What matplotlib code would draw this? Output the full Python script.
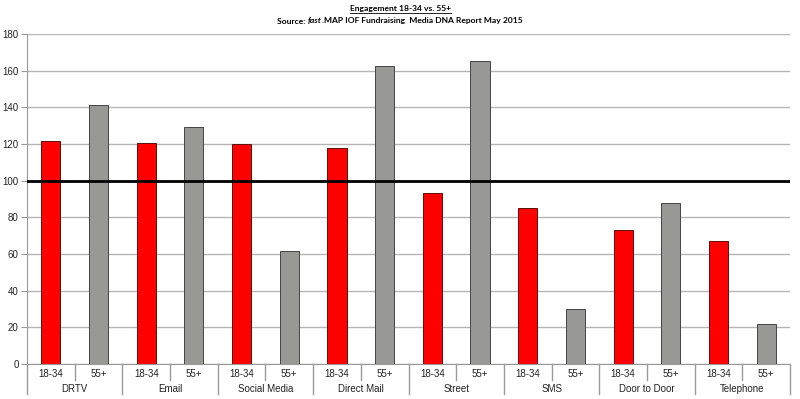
import matplotlib
matplotlib.use("Agg")
import matplotlib.pyplot as plt
import matplotlib.transforms as mtransforms
import numpy as np

categories = ["DRTV", "Email", "Social Media", "Direct Mail", "Street", "SMS", "Door to Door", "Telephone"]
age_groups = ["18-34", "55+"]
young = [121.5, 120.5, 120, 118, 93.5, 85, 73, 67]
old = [141.3, 129, 61.6, 162.4, 165.3, 29.8, 87.6, 21.6]
y_ticks = [0, 20, 40, 60, 80, 100, 120, 140, 160, 180]
benchmark = 100

plt.rcParams['font.family'] = ['Liberation Sans', 'DejaVu Sans']

fig = plt.figure(figsize=(8, 3.99), dpi=100)
ax = fig.add_axes([27/800, 1-364/399, (790-27)/800, (364-34)/399])

n = len(categories)
pos_y = np.arange(n) * 2
pos_o = pos_y + 1
bw = 0.4
ax.bar(pos_y, young, width=bw, color='#ff0000', edgecolor='#5a1010', linewidth=0.7, zorder=3)
ax.bar(pos_o, old, width=bw, color='#989894', edgecolor='#444444', linewidth=0.7, zorder=3)

ax.set_xlim(-0.5, 2*n - 0.5)
ax.set_ylim(0, 180)
ax.set_yticks(y_ticks)
ax.set_yticklabels([str(v) for v in y_ticks], fontsize=7, color='#222222')
ax.tick_params(axis='y', length=4, color='#999999', pad=2)
ax.set_xticks([])
ax.yaxis.grid(True, color='#b5b5b5', linewidth=1, zorder=0)
for s in ['top', 'right']:
    ax.spines[s].set_visible(False)
ax.spines['left'].set_color('#999999')
ax.spines['bottom'].set_color('#999999')

ax.axhline(benchmark, color='black', linewidth=2, zorder=4)

trans = mtransforms.blended_transform_factory(ax.transData, ax.transAxes)
# separators
for k in range(2*n + 1):
    x = k - 0.5
    if k % 2 == 0:
        ax.plot([x, x], [0, -0.092], transform=trans, color='#999999', lw=1, clip_on=False)
    else:
        ax.plot([x, x], [0, -0.048], transform=trans, color='#999999', lw=1, clip_on=False)

for i, c in enumerate(categories):
    ax.text(pos_y[i], -0.03, age_groups[0], transform=trans, ha='center', va='center', fontsize=7, color='#222222')
    ax.text(pos_o[i], -0.03, age_groups[1], transform=trans, ha='center', va='center', fontsize=7, color='#222222')
    ax.text(pos_y[i] + 0.5, -0.076, c, transform=trans, ha='center', va='center', fontsize=7, color='#222222')

# Title
fig.canvas.draw()
renderer = fig.canvas.get_renderer()
tfam = ['Lato', 'DejaVu Sans']
t1 = fig.text(0.5, 1 - 9/399, "Engagement 18-34 vs. 55+", ha='center', va='center', fontsize=6.1, fontweight='bold', family=tfam)
bb = t1.get_window_extent(renderer)
W, H = fig.bbox.width, fig.bbox.height
uy = (bb.y0 - 0.3) / H
fig.add_artist(plt.Line2D([bb.x0 / W, bb.x1 / W], [uy, uy], color='black', lw=0.6))

parts = [("Source: ", 'normal'), ("fast", 'italic'), (".MAP IOF Fundraising  Media DNA Report May 2015", 'normal')]
ty = 1 - 21/399
texts = []
widths = []
for s, st in parts:
    t = fig.text(0, ty, s, ha='left', va='center', fontsize=6.1, fontweight='bold', fontstyle=st, family=tfam)
    texts.append(t)
    widths.append(t.get_window_extent(renderer).width)
total = sum(widths)
x0 = (W - total) / 2
for t, w in zip(texts, widths):
    t.set_x(x0 / W)
    x0 += w

fig.savefig("out.png", dpi=100)
